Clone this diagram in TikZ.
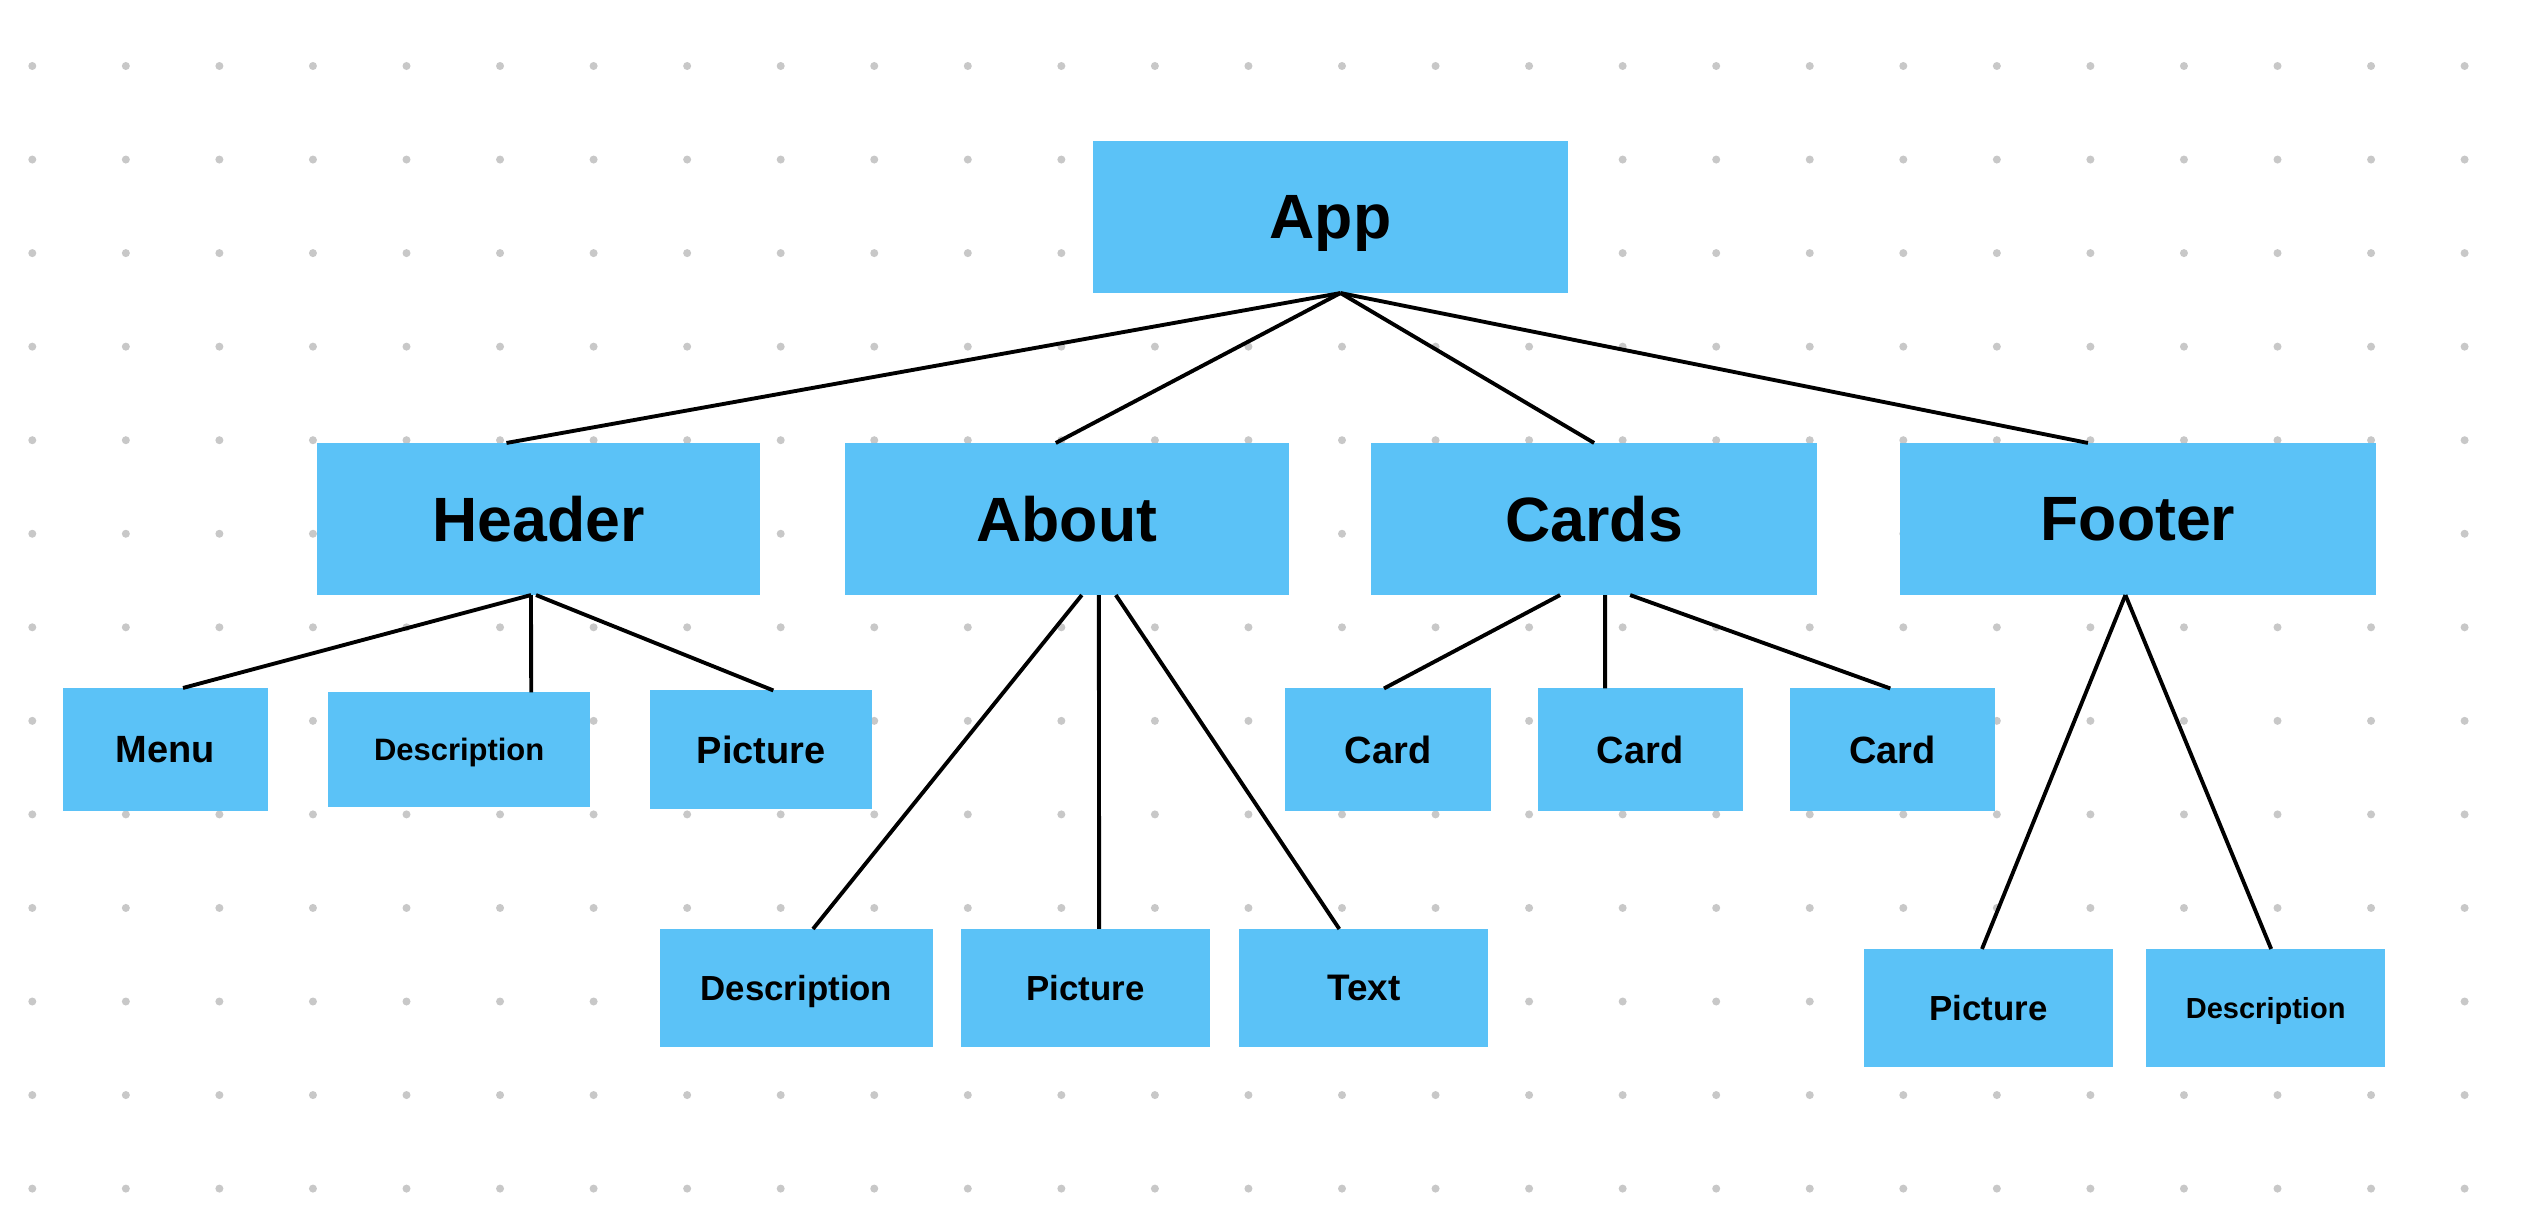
\documentclass[tikz,border=0pt]{standalone}
\usepackage{fontspec}
\setmainfont{Liberation Sans}
\usepackage{xcolor}
\usepackage{tikz}
\usetikzlibrary{positioning}

\definecolor{boxblue}{RGB}{91,194,247}
\definecolor{dotgray}{RGB}{200,200,200}

\begin{document}
\begin{tikzpicture}[
x=0.01cm, y=-0.01cm,
boxnode/.style={rectangle, fill=boxblue, inner sep=0pt, outer sep=0pt, text depth=0pt, align=center},
bignode/.style={boxnode, minimum height=1.52cm, font=\fontsize{17.8}{20}\selectfont\bfseries},
smallnode/.style={boxnode, minimum width=2.05cm, minimum height=1.22cm, font=\fontsize{10.8}{13}\selectfont\bfseries},
leafnode/.style={boxnode, minimum width=2.49cm, minimum height=1.18cm, font=\fontsize{9.9}{12}\selectfont\bfseries},
linkline/.style={line width=1.1pt, black},
]
%Background
\fill[white] (0,0) rectangle (2526,1218);
\useasboundingbox (0,0) rectangle (2526,1218);
\foreach \i in {0,...,26}
  \foreach \j in {0,...,12}
    \fill[dotgray] (32.3+93.55*\i, 66+93.55*\j) circle (0.4mm);

%Nodes
\node[bignode, minimum width=4.75cm]	(app)		at (1330.5,217)				{App};
\node[bignode, minimum width=4.43cm]	(header)	at (538.5,519)				{Header};
\node[bignode, minimum width=4.44cm]	(about)		[right=0.845cm of header]	{About};
\node[bignode, minimum width=4.45cm]	(cards)		[right=0.825cm of about]	{Cards};
\node[bignode, minimum width=4.75cm]	(footer)	[right=0.835cm of cards]	{Footer};

\node[smallnode, minimum height=1.23cm]	(menu)		at (165.5,749.5)			{Menu};
\node[smallnode, minimum width=2.62cm, minimum height=1.14cm, font=\fontsize{8.8}{11}\selectfont\bfseries]
										(hdesc)		[right=0.6cm of menu]		{Description};
\node[smallnode, minimum width=2.22cm, minimum height=1.18cm]
										(hpic)		[right=0.6cm of hdesc]		{Picture};

\node[leafnode, minimum width=2.73cm]	(adesc)		at (796.5,988)				{Description};
\node[leafnode]							(apic)		[right=0.28cm of adesc]		{Picture};
\node[leafnode, font=\fontsize{10.5}{12}\selectfont\bfseries]
										(atext)		[right=0.29cm of apic]		{Text};

\node[smallnode]						(card1)		at (1388,749.5)				{Card};
\node[smallnode]						(card2)		[right=0.47cm of card1]		{Card};
\node[smallnode]						(card3)		[right=0.47cm of card2]		{Card};

\node[leafnode]							(fpic)		at (1988.5,1008)			{Picture};
\node[leafnode, minimum width=2.39cm, font=\fontsize{8.25}{10}\selectfont\bfseries]
										(fdesc)		[right=0.33cm of fpic]		{Description};

%Lines
\draw[linkline] ([xshift=0.1cm]app.south) -- ([xshift=-0.32cm]header.north);
\draw[linkline] ([xshift=0.1cm]app.south) -- ([xshift=-0.11cm]about.north);
\draw[linkline] ([xshift=0.1cm]app.south) -- (cards.north);
\draw[linkline] ([xshift=0.1cm]app.south) -- ([xshift=-0.5cm]footer.north);

\draw[linkline] ([xshift=-0.075cm]header.south) -- ([xshift=0.175cm]menu.north);
\draw[linkline] ([xshift=-0.075cm]header.south) -- ([xshift=0.72cm]hdesc.north);
\draw[linkline] ([xshift=-0.025cm]header.south) -- ([xshift=0.12cm]hpic.north);

\draw[linkline] ([xshift=0.15cm]about.south) -- ([xshift=0.165cm]adesc.north);
\draw[linkline] ([xshift=0.32cm]about.south) -- ([xshift=0.135cm]apic.north);
\draw[linkline] ([xshift=0.49cm]about.south) -- ([xshift=-0.245cm]atext.north);

\draw[linkline] ([xshift=-0.34cm]cards.south) -- ([xshift=-0.04cm]card1.north);
\draw[linkline] ([xshift=0.11cm]cards.south) -- ([xshift=-0.35cm]card2.north);
\draw[linkline] ([xshift=0.36cm]cards.south) -- ([xshift=-0.02cm]card3.north);

\draw[linkline] ([xshift=-0.125cm]footer.south) -- ([xshift=-0.065cm]fpic.north);
\draw[linkline] ([xshift=-0.125cm]footer.south) -- ([xshift=0.055cm]fdesc.north);
\end{tikzpicture}
\end{document}
